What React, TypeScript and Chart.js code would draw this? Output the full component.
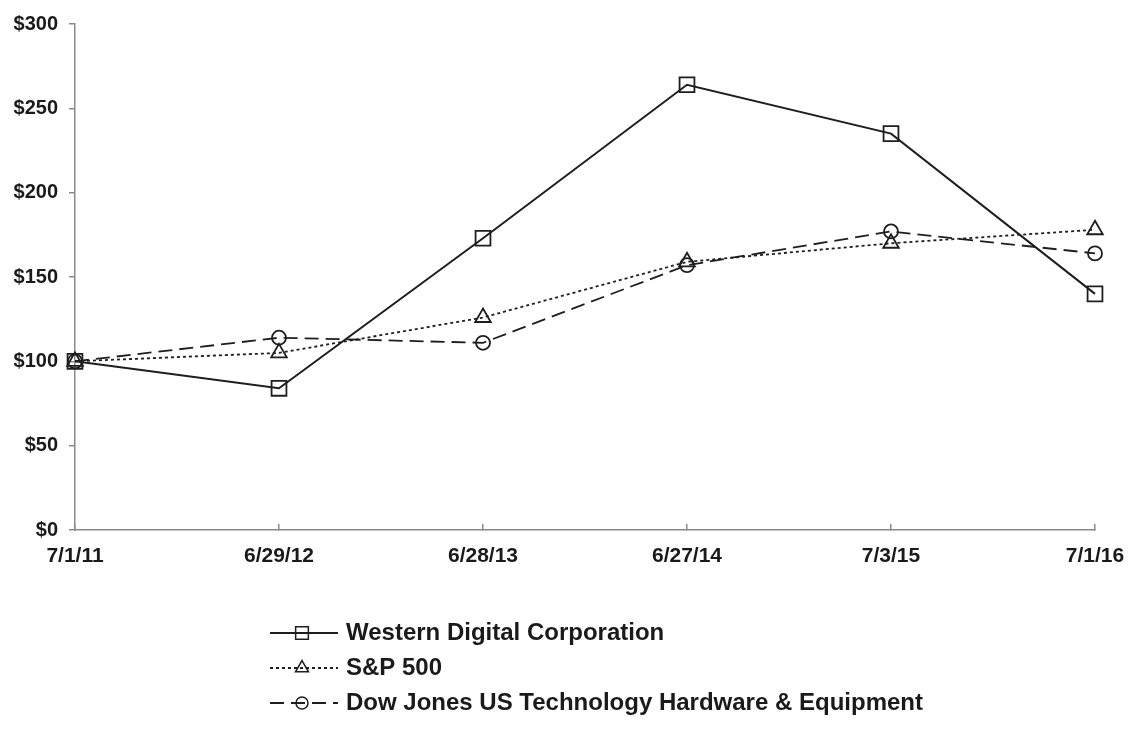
import React, { useEffect, useRef } from "react";
import { Chart, registerables } from "chart.js";

Chart.register(...registerables);

const categories = ["7/1/11", "6/29/12", "6/28/13", "6/27/14", "7/3/15", "7/1/16"];
const wdcValues = [100, 84, 173, 264, 235, 140];
const spValues = [100, 105, 126, 159, 170, 178];
const djValues = [100, 114, 111, 157, 177, 164];
const seriesNames = [
  "Western Digital Corporation",
  "S&P 500",
  "Dow Jones US Technology Hardware & Equipment",
];
const yTicks = [0, 50, 100, 150, 200, 250, 300];

const LINE = "#1e1e1e";
const AXIS = "#8a8a8a";
const FONT = "'Liberation Sans', Arial, sans-serif";

function drawMarker(ctx: CanvasRenderingContext2D, style: string, x: number, y: number, r: number) {
  ctx.beginPath();
  if (style === "rect") {
    const s = Math.SQRT1_2 * r;
    ctx.rect(x - s, y - s, 2 * s, 2 * s);
  } else if (style === "triangle") {
    ctx.moveTo(x, y - r);
    ctx.lineTo(x + r * Math.sin(Math.PI / 3), y + r / 2);
    ctx.lineTo(x - r * Math.sin(Math.PI / 3), y + r / 2);
    ctx.closePath();
  } else {
    ctx.arc(x, y, r, 0, Math.PI * 2);
  }
  ctx.stroke();
}

const legendPlugin = {
  id: "customLegend",
  afterDraw(chart: any) {
    const ctx = chart.ctx as CanvasRenderingContext2D;
    const x0 = 270;
    const x1 = 338;
    const startY = 633;
    const step = 35;
    chart.data.datasets.forEach((ds: any, i: number) => {
      const y = startY + i * step;
      ctx.save();
      ctx.strokeStyle = ds.borderColor;
      ctx.lineWidth = ds.borderWidth;
      ctx.setLineDash(ds.borderDash || []);
      ctx.beginPath();
      ctx.moveTo(x0, y);
      ctx.lineTo(x1, y);
      ctx.stroke();
      ctx.setLineDash([]);
      ctx.lineWidth = 1.5;
      drawMarker(ctx, ds.pointStyle, (x0 + x1) / 2 - 2, y, ds.legendRadius);
      ctx.fillStyle = "#1a1a1a";
      ctx.font = `bold 24px ${FONT}`;
      ctx.textBaseline = "middle";
      ctx.textAlign = "left";
      ctx.fillText(ds.label, 346, y);
      ctx.restore();
    });
  },
};

export default function App() {
  const ref = useRef<HTMLCanvasElement | null>(null);

  useEffect(() => {
    document.body.style.margin = "0";
    const canvas = ref.current;
    if (!canvas) return;
    const chart = new Chart(canvas, {
      type: "line",
      data: {
        labels: categories,
        datasets: [
          {
            label: seriesNames[0],
            data: wdcValues,
            borderColor: LINE,
            borderWidth: 2,
            pointStyle: "rect",
            pointRadius: 10.5,
            pointBorderWidth: 1.8,
            pointBorderColor: LINE,
            pointBackgroundColor: "rgba(0,0,0,0)",
            legendRadius: 9,
            tension: 0,
          } as any,
          {
            label: seriesNames[1],
            data: spValues,
            borderColor: LINE,
            borderWidth: 1.8,
            borderDash: [3, 3],
            pointStyle: "triangle",
            pointRadius: 9,
            pointBorderWidth: 1.8,
            pointBorderColor: LINE,
            pointBackgroundColor: "rgba(0,0,0,0)",
            legendRadius: 7.5,
            tension: 0,
          } as any,
          {
            label: seriesNames[2],
            data: djValues,
            borderColor: LINE,
            borderWidth: 1.8,
            borderDash: [14, 7],
            pointStyle: "circle",
            pointRadius: 7,
            pointBorderWidth: 1.8,
            pointBorderColor: LINE,
            pointBackgroundColor: "rgba(0,0,0,0)",
            legendRadius: 6,
            tension: 0,
          } as any,
        ],
      },
      options: {
        animation: false,
        responsive: false,
        maintainAspectRatio: false,
        layout: { padding: { top: 24, right: 33, left: 0, bottom: 0 } },
        plugins: {
          legend: { display: false },
          tooltip: { enabled: false },
        },
        scales: {
          x: {
            type: "category",
            offset: false,
            grid: {
              drawOnChartArea: false,
              drawTicks: true,
              tickLength: -6,
              color: AXIS,
              lineWidth: 1.5,
            },
            border: { color: AXIS, width: 1.5 },
            ticks: {
              color: "#1a1a1a",
              font: { family: FONT, size: 21, weight: "bold" },
              padding: 20,
              maxRotation: 0,
              autoSkip: false,
            },
            afterFit(scale: any) {
              scale.height = 202;
              scale.paddingLeft = 0;
              scale.paddingRight = 0;
            },
          },
          y: {
            min: 0,
            max: 300,
            afterBuildTicks(scale: any) {
              scale.ticks = yTicks.map((v) => ({ value: v }));
            },
            grid: {
              drawOnChartArea: false,
              drawTicks: true,
              tickLength: 6,
              color: AXIS,
              lineWidth: 1.5,
            },
            border: { color: AXIS, width: 1.5 },
            ticks: {
              color: "#1a1a1a",
              font: { family: FONT, size: 20, weight: "bold" },
              padding: 11,
              callback: (v: any) => "$" + v,
            },
            afterFit(scale: any) {
              scale.width = 75;
              scale.paddingTop = 0;
              scale.paddingBottom = 0;
            },
          },
        },
      } as any,
      plugins: [legendPlugin],
    });
    return () => chart.destroy();
  }, []);

  return (
    <div style={{ width: 1128, height: 732 }}>
      <canvas ref={ref} width={1128} height={732} style={{ display: "block", width: 1128, height: 732 }} />
    </div>
  );
}
